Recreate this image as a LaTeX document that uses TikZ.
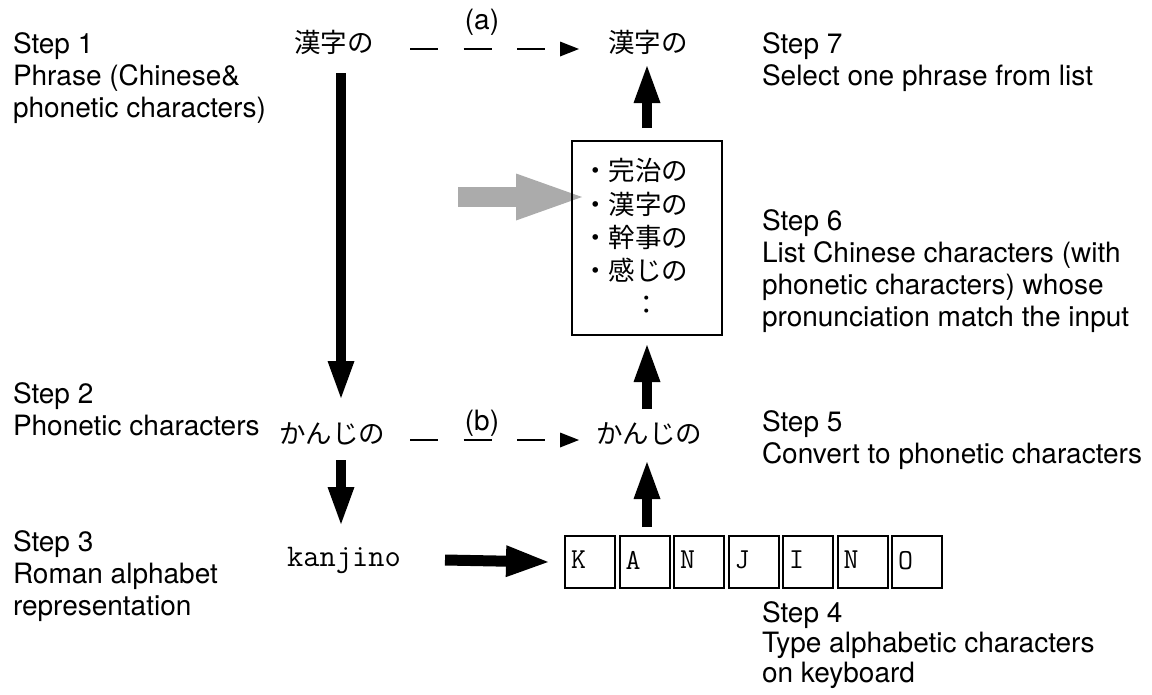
\documentclass[tikz,border=0pt]{standalone}
\usepackage{fontspec}
\setmainfont{TeX Gyre Heros}
\newfontfamily\jpfont{Noto Sans CJK JP}
\usetikzlibrary{arrows.meta,calc}

\begin{document}
\begin{tikzpicture}[x=1pt,y=-1pt,
  every node/.style={inner sep=0pt, outer sep=0pt},
  steptext/.style={anchor=base west, font=\fontsize{28}{32}\selectfont},
  tag/.style={font=\fontsize{28}{32}\selectfont},
  kana/.style={font=\jpfont\fontsize{26.5}{30}\selectfont},
  listitem/.style={kana, anchor=west},
  roman/.style={font=\ttfamily\fontsize{31.5}{34}\selectfont},
  keybox/.style={draw, line width=2pt, text width=38pt, inner xsep=6pt,
    minimum height=52pt, align=left, font=\ttfamily\fontsize{29}{31}\selectfont},
  listbox/.style={draw, line width=2pt, minimum width=150pt, minimum height=194pt},
  bigarrow/.style={line width=10pt, -{Triangle[length=37pt,width=27pt,line width=0pt]}},
  widearrow/.style={line width=11pt, -{Triangle[length=42pt,width=32pt,line width=0pt]}},
  grayarrow/.style={draw=black!33, line width=20pt, -{Triangle[length=66pt,width=47pt,line width=0pt]}},
  dasharrow/.style={line width=1.6pt, dash pattern=on 28pt off 25.5pt,
    -{Triangle[length=19pt,width=15pt,line width=0pt]}}
]
\useasboundingbox (0,0) rectangle (1152,694);
\fill[white] (0,0) rectangle (1152,694);

% step descriptions, left column
\node[steptext] (s1a) at (13,53)   {Step 1};
\node[steptext] (s1b) at (13,85)   {Phrase (Chinese\&};
\node[steptext] (s1c) at (13,117)  {phonetic characters)};
\node[steptext] (s2a) at (13,403)  {Step 2};
\node[steptext] (s2b) at (13,435)  {Phonetic characters};
\node[steptext] (s3a) at (13,551)  {Step 3};
\node[steptext] (s3b) at (13,583)  {Roman alphabet};
\node[steptext] (s3c) at (13,615)  {representation};

% step descriptions, right column
\node[steptext] (s7a) at (762,53)  {Step 7};
\node[steptext] (s7b) at (762,85)  {Select one phrase from list};
\node[steptext] (s6a) at (762,230) {Step 6};
\node[steptext] (s6b) at (762,262) {List Chinese characters (with};
\node[steptext] (s6c) at (762,294) {phonetic characters) whose};
\node[steptext] (s6d) at (762,326) {pronunciation match the input};
\node[steptext] (s5a) at (762,431) {Step 5};
\node[steptext] (s5b) at (762,463) {Convert to phonetic characters};
\node[steptext] (s4a) at (762,622) {Step 4};
\node[steptext] (s4b) at (762,652) {Type alphabetic characters};
\node[steptext] (s4c) at (762,682) {on keyboard};

% phrases
\node[kana] (jL) at (334,42)  {漢字の};
\node[kana] (jR) at (648,42)  {漢字の};
\node[kana] (kL) at (332,434) {かんじの};
\node[kana] (kR) at (649,434) {かんじの};
\node[roman] (kan) at (344,560) {kanjino};

% candidate list
\node[listbox] (list) at (647,238) {};
\node[listitem] (li1) at (582,170) {・完治の};
\node[listitem] (li2) at (582,204) {・漢字の};
\node[listitem] (li3) at (582,237) {・幹事の};
\node[listitem] (li4) at (582,270) {・感じの};
\node[kana] (li5) at (647,305) {：};

% keyboard keys
\foreach \c [count=\i from 0] in {K,A,N,J,I,N,O} {
  \pgfmathsetmacro{\kx}{590+54.5*\i}
  \pgfmathtruncatemacro{\kn}{\i+1}
  \node[keybox] (k\kn) at (\kx,562) {\raisebox{4pt}{\c}};
}

% gray input arrow pointing at the chosen candidate
\coordinate (gsrc) at (458,197);
\draw[grayarrow] (gsrc) -- ($(list.north west)+(10,56)$);
\node[listbox] (listframe) at (list.center) {};

% main flow arrows
\draw[bigarrow] ($(jL.center)+(7,31)$) -- ($(kL.center)+(9,-36)$);
\draw[bigarrow] ($(kL.center)+(9,26)$) -- ($(kan.center)+(-3,-36)$);
\draw[widearrow] ($(kan.center)+(101,0)$) -- ($(k1.west)+(-17,0)$);
\draw[bigarrow] ($(k2.north)+(2.5,-9)$) -- ($(kR.center)+(-2,28)$);
\draw[bigarrow] ($(kR.center)+(-2,-25)$) -- ($(list.south)+(0,10)$);
\draw[bigarrow] ($(list.north)+(0,-13)$) -- ($(jR.center)+(-1,24)$);

% direct conversions
\draw[dasharrow] ($(jL.center)+(76,7)$) -- ($(jR.center)+(-69,7)$);
\draw[dasharrow] ($(kL.center)+(78,6)$) -- ($(kR.center)+(-70,6)$);
\node[tag] (la) at (482,22)  {(a)};
\node[tag] (lb) at (482,423) {(b)};
\end{tikzpicture}
\end{document}
